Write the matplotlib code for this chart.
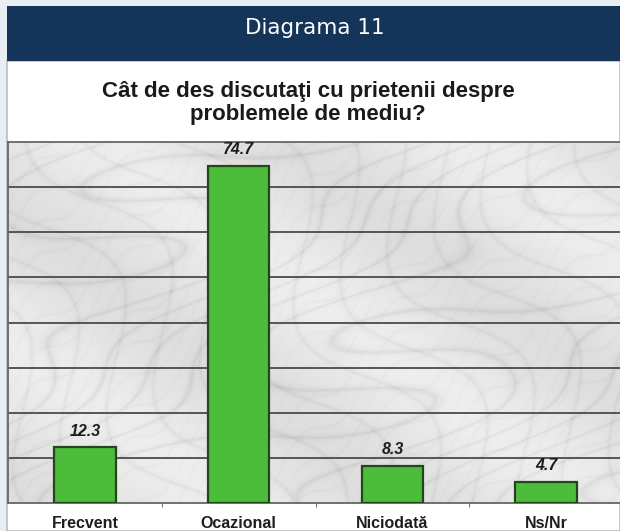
import matplotlib.pyplot as plt
import numpy as np

categories = ['Frecvent', 'Ocazional', 'Niciodată', 'Ns/Nr']
values = [12.3, 74.7, 8.3, 4.7]
header_text = 'Diagrama 11'
title_text = 'Cât de des discutaţi cu prietenii despre\nproblemele de mediu?'

W, H = 620, 531
fig = plt.figure(figsize=(W / 100, H / 100), dpi=100)
fig.patch.set_facecolor('#e9eef5')

# panou alb si banda de titlu
panel = fig.add_axes([7 / W, 0, 1 - 7 / W, 1 - 61 / H])
panel.set_facecolor('white')
panel.set_xticks([])
panel.set_yticks([])
for s in panel.spines.values():
    s.set_color('#b8bcc2')
    s.set_linewidth(1.2)

head = fig.add_axes([7 / W, 1 - 61 / H, 1 - 7 / W, 55 / H])
head.set_facecolor('#14345a')
head.set_xticks([])
head.set_yticks([])
for s in head.spines.values():
    s.set_visible(False)
fig.text(315 / W, 1 - 34 / H, header_text, ha='center', va='baseline',
         color='white', fontsize=15.5, family='DejaVu Sans')

fig.text(308 / W, 1 - 120 / H, title_text, ha='center', va='baseline', fontsize=16,
         fontweight='bold', family='Liberation Sans', color='#1a1a1a', linespacing=1.1)

# zona graficului
ax = fig.add_axes([8 / W, (H - 503) / H, 1 - 8 / W, (503 - 142) / H])

# fundal "marmura" (doar decor)
gx, gy = np.meshgrid(np.linspace(0, 612, 500), np.linspace(0, 361, 300))
f = np.sin(0.035 * (gx + 1.3 * gy) + 3.0 * np.sin(0.013 * gx + 0.02 * gy) + 2.0 * np.sin(0.041 * gy))
g = np.sin(0.052 * (gx - 0.5 * gy) + 2.4 * np.sin(0.019 * gy + 0.011 * gx + 1.0))
h = np.sin(0.11 * (gx + 0.9 * gy) + 1.5 * np.sin(0.07 * gx))
tex = (0.90 - 0.07 * np.exp(-np.abs(f) * 7) - 0.05 * np.exp(-np.abs(g) * 9)
       - 0.03 * np.exp(-np.abs(h) * 10) + 0.03 * np.sin(0.017 * gx - 0.023 * gy))
ax.imshow(tex, cmap='gray', vmin=0, vmax=1, extent=(-0.5, 3.48, 0, 80), aspect='auto', zorder=0)

x = np.arange(len(categories))
bars = ax.bar(x, values, width=0.4, color='#4cbd3a', edgecolor='#24461c', linewidth=1.6, zorder=3)
ax.set_xlim(-0.5, 3.48)
ax.set_ylim(0, 80)
ax.set_yticks(np.arange(10, 80, 10))
ax.yaxis.grid(True, color='#4a4a4a', linewidth=1.3, zorder=1)
ax.set_axisbelow(True)
ax.tick_params(axis='y', length=0, labelleft=False)
ax.set_xticks(x)
ax.set_xticklabels(categories, fontsize=11.5, fontweight='bold', family='Liberation Sans', color='#1e1e1e')
ax.tick_params(axis='x', length=0, pad=9)
ax.set_xticks([0.5, 1.5, 2.5], minor=True)
ax.tick_params(axis='x', which='minor', length=3, color='#555555')
for s in ['top', 'bottom', 'left']:
    ax.spines[s].set_color('#666666')
    ax.spines[s].set_linewidth(1.3)
ax.spines['right'].set_visible(False)

for xi, v in zip(x, values):
    ax.annotate(f'{v}', (xi, v), xytext=(0, 11.5), textcoords='offset points', ha='center',
                va='center', fontsize=11.5, fontweight='bold', fontstyle='italic',
                family='Liberation Sans', color='#1e1e1e')

fig.savefig('out.png', dpi=100)
